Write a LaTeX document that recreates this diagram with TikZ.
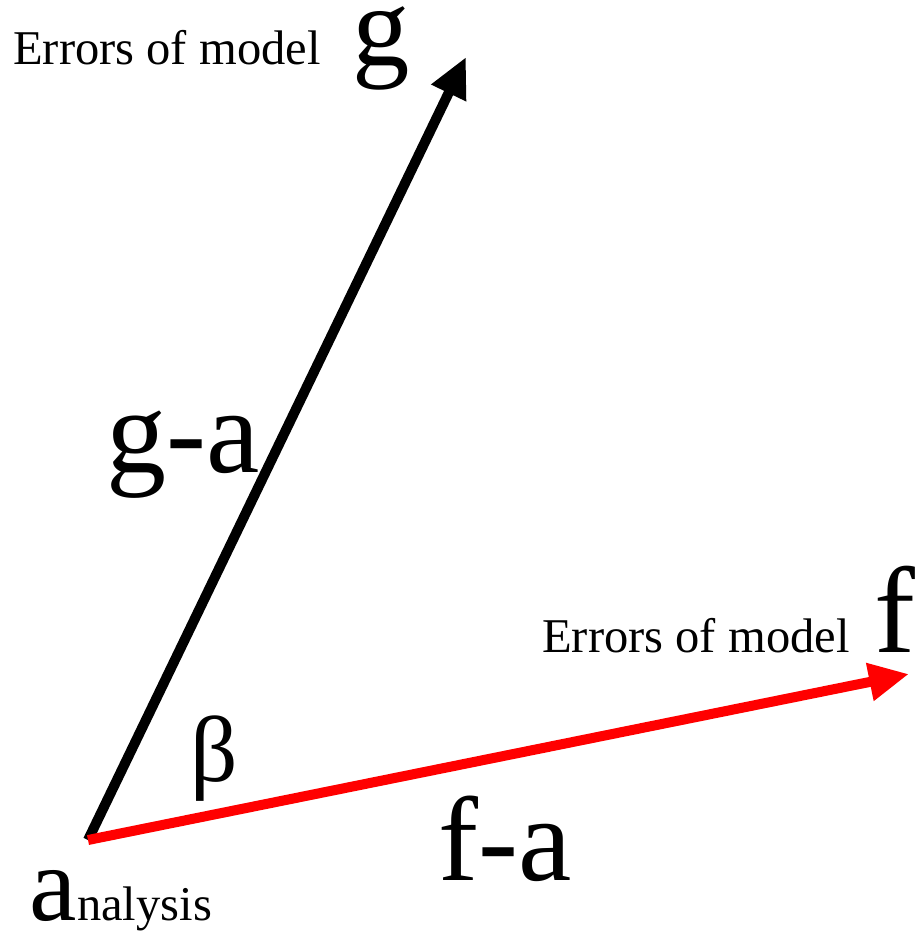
\documentclass[tikz,border=0pt]{standalone}
\usepackage{fontspec}
\setmainfont{Liberation Serif}
\usetikzlibrary{arrows.meta}
\tikzset{
  vec/.style={line width=7.5pt,-{Triangle[length=30pt,width=27pt]}},
  note/.style={inner sep=0pt,anchor=base west,font=\fontsize{36.4}{40}\selectfont},
  big/.style={inner sep=0pt,anchor=base west,font=\fontsize{92}{100}\selectfont},
  mid/.style={inner sep=0pt,anchor=base west,font=\fontsize{90}{96}\selectfont}
}
\begin{document}
\begin{tikzpicture}[x=0.75pt,y=-0.75pt]
\useasboundingbox (0,0) rectangle (920,936);
\coordinate (an) at (88,840);
\coordinate (gt) at (466,57);
\coordinate (ft) at (909,674);

\draw[vec,black] (an) -- (gt);
\draw[vec,red] (an) -- (ft);

\node[note] (errg) at (13,64) {Errors of model};
\node[big,font=\fontsize{86}{90}\selectfont,text height=0.5em] (g) at (352,65) {g};
\node[mid] (ga) at (106,472) {g-a};

\node[note] (errf) at (542,652) {Errors of model};
\node[big] (f) at (874,652) {f};
\node[mid] (fa) at (438,880) {f-a};

\node[inner sep=0pt,anchor=base west,font=\fontsize{70}{76}\selectfont] (beta) at (190,781) {β};

\node[mid,font=\fontsize{80}{86}\selectfont] (a) at (29,920) {a};
\node[note,anchor=base west] (nal) at (a.base east) {nalysis};
\end{tikzpicture}
\end{document}
